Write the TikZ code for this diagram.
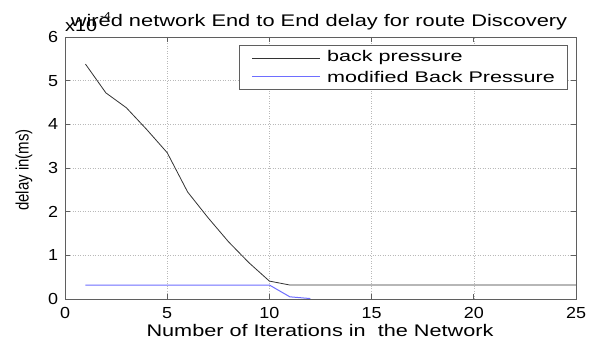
\documentclass[tikz,border=0pt]{standalone}
\usepackage{fontspec}
\setmainfont{Liberation Sans}
\newcommand{\wide}[2]{\scalebox{#1}[1]{#2}}
\definecolor{mbpblue}{RGB}{110,110,255}
\definecolor{framegray}{RGB}{95,95,95}
\begin{document}
\begin{tikzpicture}[x=1pt,y=1pt,
  lbl/.style={font=\fontsize{16}{16}\selectfont, inner sep=0pt},
  gridline/.style={gray!55, line width=0.5pt, dotted},
  frame/.style={framegray, line width=0.9pt},
  bpcurve/.style={black!80, line width=0.8pt},
  mbpcurve/.style={draw=mbpblue, line width=1pt}]
\useasboundingbox (0,0) rectangle (597,340);
\fill[white] (0,0) rectangle (597,340);

% plot area in data units
\begin{scope}[shift={(65pt,41pt)}, x=20.44pt, y=43.67pt]
  % grid
  \foreach \gx in {5,10,15,20} \draw[gridline] (\gx,0) -- (\gx,6);
  \foreach \gy in {1,...,5} \draw[gridline] (0,\gy) -- (25,\gy);
  % curves
  \draw[bpcurve] (1,5.38) -- (2,4.72) -- (3,4.38) -- (4,3.88) -- (5,3.35)
     -- (6,2.45) -- (7,1.86) -- (8,1.31) -- (9,0.83) -- (10,0.41)
     -- (11,0.32) -- (25,0.32);
  \draw[mbpcurve] (1,0.32) -- (10,0.32) -- (11,0.05) -- (12,0.01);
  % frame and ticks
  \draw[frame] (0,0) rectangle (25,6);
  \foreach \gx in {5,10,15,20} {
    \draw[frame] (\gx,0) -- ++(0,5pt);
    \draw[frame] (\gx,6) -- ++(0,-5pt);
  }
  \foreach \gy in {1,...,5} {
    \draw[frame] (0,\gy) -- ++(5pt,0);
    \draw[frame] (25,\gy) -- ++(-5pt,0);
  }
  % tick labels
  \foreach \gx in {0,5,...,25}
    \node[lbl, anchor=north] (xt\gx) at (\gx,-0.19) {\wide{1.12}{\gx}};
  \foreach \gy in {0,...,6}
    \node[lbl, anchor=east] (yt\gy) at (-0.33,\gy) {\wide{1.12}{\gy}};
\end{scope}

% exponent and title
\node[lbl, anchor=base west, font=\fontsize{16.8}{16.8}\selectfont] (expo) at (65,308) {\wide{1.18}{x10}};
\node[lbl, anchor=base west, font=\fontsize{10}{10}\selectfont] (expn) at (100,320) {\wide{1.2}{-4}};
\node[lbl, anchor=base, font=\fontsize{16.8}{16.8}\selectfont] (title) at (319,313) {\wide{1.30}{wired network End to End delay for route Discovery}};

% axis labels
\node[lbl, anchor=base, font=\fontsize{16.8}{16.8}\selectfont] (xlabel) at (320,3) {\wide{1.29}{Number of Iterations in\ \ the Network}};
\node[lbl, anchor=center, font=\fontsize{15}{15}\selectfont] (ylabel) at (24,170) {\wide{1.2}{\rotatebox{90}{delay in(ms)}}};

% legend
\draw[framegray, line width=0.8pt, fill=white] (239,251) rectangle (567,295);
\coordinate (la1) at (252,282);
\coordinate (lb1) at (320,282);
\coordinate (la2) at (252,263);
\coordinate (lb2) at (320,263);
\draw[bpcurve] (la1) -- (lb1);
\draw[mbpcurve] (la2) -- (lb2);
\node[lbl, anchor=west, font=\fontsize{15.4}{15.4}\selectfont] (leg1) at (327,282) {\wide{1.40}{back pressure}};
\node[lbl, anchor=west, font=\fontsize{15.4}{15.4}\selectfont] (leg2) at (327,263) {\wide{1.40}{modified Back Pressure}};
\end{tikzpicture}
\end{document}
